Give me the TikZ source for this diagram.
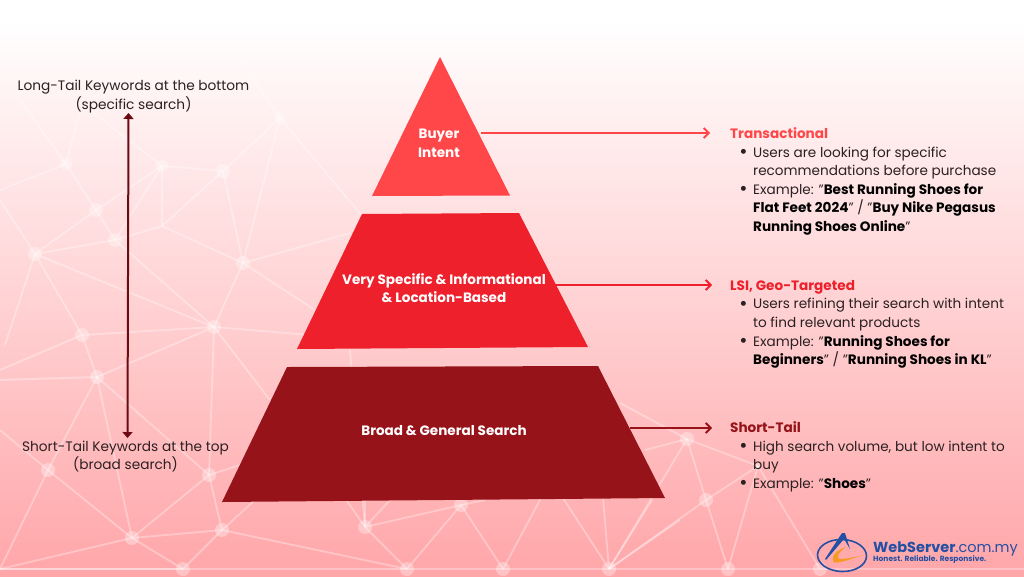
\documentclass[tikz,border=0pt]{standalone}
\usepackage{fontspec}
\setmainfont{Poppins}[Ligatures=Common]
\usetikzlibrary{arrows.meta}
\definecolor{tierA}{HTML}{FF474A}
\definecolor{tierB}{HTML}{ED202B}
\definecolor{tierC}{HTML}{951319}
\definecolor{axisdark}{HTML}{6B0A10}
\definecolor{bgbottom}{HTML}{FFA6A9}
\definecolor{inktext}{HTML}{2B2022}
\definecolor{logoblue}{HTML}{2450A4}
\definecolor{logoorange}{HTML}{F59A23}
\newcommand{\ind}{\hspace*{23pt}}
\newcommand{\bul}{\hspace*{23pt}\llap{\raisebox{-1.2pt}{\fontsize{20}{18.6}\selectfont\textbullet}\hspace{5.5pt}}}
\tikzset{
  tier/.style={draw=none},
  tierlabel/.style={text=white,font=\fontsize{13.55}{18.6}\selectfont\bfseries,align=center,inner sep=0pt},
  sidelabel/.style={text=inktext,font=\fontsize{13.7}{18.6}\selectfont,align=center,inner sep=0pt},
  infotext/.style={text=inktext,font=\fontsize{13.6}{18.6}\selectfont,align=left,anchor=north west,inner sep=0pt},
  link/.style={line width=1.8pt,-{Straight Barb[length=5pt,width=10pt,line width=1.8pt]}},
  netline/.style={draw=white,draw opacity=.32,line width=1.8pt},
  netdot/.style={fill=white,fill opacity=.32}
}
\begin{document}
\begin{tikzpicture}[x=1pt,y=-1pt]
\useasboundingbox (0,0) rectangle (1024,576);
\shade[top color=white,bottom color=bgbottom,shading angle=0] (0,20) rectangle (1024,576);
% network backdrop
\foreach \n/\x/\y in {A/66/164,B/162/166,C/223/171,D/280/118,E/96/210,F/115/240,G/162/226,H/35/254,
  I/243/263,J/214/327,K/82/335,L/97/377,M/48/470,N/132/538,O/209/475,P/222/530,Q/183/569,R/365/527,
  T/461/505,U/407/569,V/503/569,W/609/569,X/687/439,Y/758/466,Z/706/500,AA/728/569,AB/820/569,
  e1/20/100,e2/80/110,e3/90/110,e4/0/190,e5/0/200,e6/5/345,e7/0/370,e8/0/380,e9/0/569,e10/0/430,
  e11/363/217,e12/350/233,e13/315/310,e14/270/400,e15/255/500,e16/240/465,e17/345/498,e18/365/498,
  e19/392/498,e21/541/498,e22/603/498,e23/652/500,e24/680/520,e25/620/403,e26/645/450,
  e28/240/60,e29/350/350,e31/563/498,e32/485/500,e34/310/335}
  {\coordinate (\n) at (\x,\y);}
\foreach \a/\b in {e1/A,A/e4,A/e2,A/E,E/B,E/H,E/F,F/H,F/B,F/G,F/J,G/B,G/C,G/I,C/B,C/D,C/I,D/I,D/e11,
  D/e28,B/e3,H/J,H/K,H/e5,H/e6,K/J,I/J,I/e12,I/e13,K/L,K/e7,L/J,L/M,L/N,L/O,J/O,J/e14,J/e34,L/e8,M/e10,M/N,
  M/e9,N/e9,N/Q,N/O,N/P,O/P,O/e16,P/Q,P/e15,P/U,R/U,R/T,R/e17,R/e18,R/e19,T/U,T/V,T/e32,V/e21,W/e22,
  W/e23,W/e24,W/e31,W/Z,X/Z,X/Y,X/W,X/e25,X/e26,Z/Y,Z/AA,Y/AA,Y/AB,Q/e9,e29/R}
  {\draw[netline] (\a) -- (\b);}
\draw[netline] (0,569) -- (1024,569);
\foreach \n/\r in {A/6,B/6,C/7,D/6,E/7,F/7,H/7,I/7,J/7,K/7,L/7,M/7,N/7,O/7,P/7,Q/7,R/7,T/7,U/7,V/7,W/7,X/7,Y/3,Z/7,AA/7,AB/7}
  {\fill[netdot] (\n) circle (\r);}
% pyramid
\fill[tier,tierA] (440,57) -- (510,195.5) -- (372,196) -- cycle;
\fill[tier,tierB] (362,214) -- (519,213) -- (588,347) -- (297,349) -- cycle;
\fill[tier,tierC] (287,367) -- (598,366) -- (665,498) -- (222,502) -- cycle;
\node[tierlabel] (tierBuyer) at (439,143.5) {Buyer\\Intent};
\node[tierlabel] (tierSpecific) at (444,288) {Very Specific \& Informational\\\& Location-Based};
\node[tierlabel] (tierBroad) at (444,431) {Broad \& General Search};
% side labels and axis
\node[sidelabel] (longLabel) at (133.5,96.5) {Long-Tail Keywords at the bottom\\(specific search)};
\node[sidelabel] (shortLabel) at (125.5,456.5) {Short-Tail Keywords at the top\\(broad search)};
\coordinate (axisTop) at (128.5,113);
\coordinate (axisBottom) at (127.5,438);
\draw[axisdark,line width=2pt,{Triangle[length=6pt,width=10pt]}-{Triangle[length=6pt,width=10pt]}] (axisTop) -- (axisBottom);
% info blocks
\node[infotext] (infoA) at (730,127.5) {{\color{tierA}\bfseries Transactional}\\
 \bul Users are looking for specific\\
 \ind recommendations before purchase\\
 \bul Example: "{\color{black}\bfseries Best Running Shoes for}\\
 \ind{\color{black}\bfseries Flat Feet 2024}" / "{\color{black}\bfseries Buy Nike Pegasus}\\
 \ind{\color{black}\bfseries Running Shoes Online}"};
\node[infotext] (infoB) at (730,280) {{\color{tierB}\bfseries LSI, Geo-Targeted}\\
 \bul Users refining their search with intent\\
 \ind to find relevant products\\
 \bul Example: "{\color{black}\bfseries Running Shoes for}\\
 \ind{\color{black}\bfseries Beginners}" / "{\color{black}\bfseries Running Shoes in KL}"};
\node[infotext] (infoC) at (730,421.5) {{\color{tierC}\bfseries Short-Tail}\\
 \bul High search volume, but low intent to\\
 \ind buy\\
 \bul Example: "{\color{black}\bfseries Shoes}"};
% connectors
\coordinate (startA) at (481,133);
\coordinate (endA) at (710,133);
\coordinate (startB) at (555,285);
\coordinate (endB) at (712,285);
\coordinate (startC) at (630,428);
\coordinate (endC) at (712,428);
\draw[link,tierA] (startA) -- (endA);
\draw[link,tierB] (startB) -- (endB);
\draw[link,tierC] (startC) -- (endC);
% logo
\draw[logoblue,line width=1.6pt,rotate around={-2:(842,555.5)}] (842,555.5) ellipse (24.5 and 16);
\fill[logoorange] (863,555) .. controls (851,559) and (841,563) .. (834,562.5) .. controls (830,557) and (836,550) .. (846,547) .. controls (839,552) and (836,556) .. (839,559) .. controls (846,559) and (856,557) .. (863,555) -- cycle;
\fill[logoblue] (842,533) -- (845,533) -- (850,549) -- (844,539) -- (826,560) -- (825,559) -- cycle;
\node[inner sep=0pt,anchor=west,text=logoblue,font=\fontsize{14.5}{16}\selectfont] (logoName) at (873,548.5) {\textbf{WebServer}.com.my};
\node[inner sep=0pt,anchor=west,text=logoblue,font=\fontsize{7.5}{8}\selectfont\bfseries] (logoTag) at (873,559) {Honest. Reliable. Responsive.};
\end{tikzpicture}
\end{document}
